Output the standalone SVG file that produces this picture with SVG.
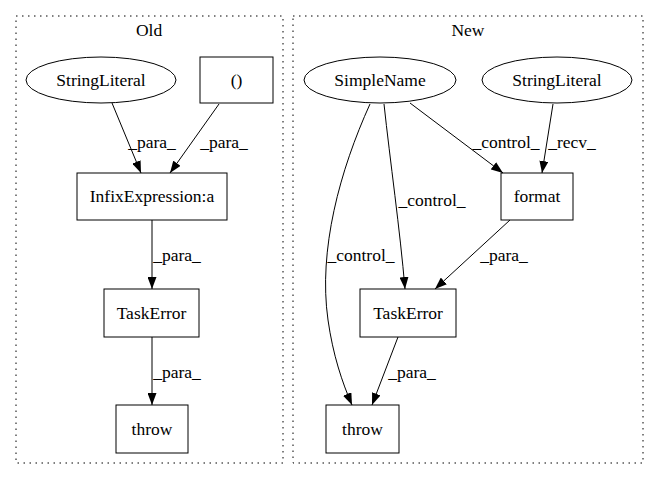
<svg xmlns="http://www.w3.org/2000/svg" width="659" height="480" viewBox="0 0 659 480">
<style>
text{font-family:"Liberation Serif","Times New Roman",serif;font-size:17.5px;fill:#000;text-anchor:middle}
.n{fill:#fff;stroke:#000;stroke-width:1}
.c{fill:none;stroke:#000;stroke-width:1;stroke-dasharray:1.5,4.5}
.e{fill:none;stroke:#000;stroke-width:1;marker-end:url(#a)}
</style>
<defs>
<marker id="a" viewBox="0 0 12 9" refX="12" refY="4.5" markerWidth="12" markerHeight="9" markerUnits="userSpaceOnUse" orient="auto">
<path d="M0,0 L12,4.5 L0,9 z" fill="#000"/>
</marker>
</defs>
<rect width="659" height="480" fill="#fff"/>
<g id="cluster_old">
<rect class="c" x="16" y="16" width="267" height="447"/>
<text x="149" y="36">Old</text>
</g>
<g id="cluster_new">
<rect class="c" x="293" y="16" width="350" height="447"/>
<text x="468" y="36">New</text>
</g>
<g id="old_stringliteral"><ellipse class="n" cx="101" cy="80" rx="75" ry="23"/><text x="101" y="86">StringLiteral</text></g>
<g id="old_paren"><rect class="n" x="200" y="57" width="73" height="46"/><text x="236.5" y="86">()</text></g>
<g id="old_infix"><rect class="n" x="77" y="173" width="150" height="47"/><text x="152" y="202">InfixExpression:a</text></g>
<g id="old_taskerror"><rect class="n" x="104" y="289" width="95" height="48"/><text x="151.5" y="319">TaskError</text></g>
<g id="old_throw"><rect class="n" x="116" y="405" width="72" height="48"/><text x="152" y="435">throw</text></g>
<g id="new_simplename"><ellipse class="n" cx="380" cy="80" rx="76" ry="23"/><text x="380" y="86">SimpleName</text></g>
<g id="new_stringliteral"><ellipse class="n" cx="557" cy="80" rx="75" ry="23"/><text x="557" y="86">StringLiteral</text></g>
<g id="new_format"><rect class="n" x="501" y="173" width="72" height="47"/><text x="537" y="202">format</text></g>
<g id="new_taskerror"><rect class="n" x="360" y="289" width="96" height="48"/><text x="408" y="319">TaskError</text></g>
<g id="new_throw"><rect class="n" x="326" y="405" width="73" height="48"/><text x="362.5" y="435">throw</text></g>
<g id="connectors">
<path class="e" d="M112,103 L141,173"/>
<text x="152" y="148">_para_</text>
<path class="e" d="M219,104 L170,173"/>
<text x="224" y="148">_para_</text>
<path class="e" d="M152,220 L152,289"/>
<text x="177" y="261">_para_</text>
<path class="e" d="M152,337 L152,405"/>
<text x="177" y="378">_para_</text>
<path class="e" d="M410,103 L503,173"/>
<text x="506" y="148">_control_</text>
<path class="e" d="M553,104 L542,173"/>
<text x="572" y="148">_recv_</text>
<path class="e" d="M384,104 C390,160 400,230 405,289"/>
<text x="432" y="206">_control_</text>
<path class="e" d="M370,104 C340,170 318,250 328,320 C333,355 342,382 352,405"/>
<text x="361" y="261">_control_</text>
<path class="e" d="M510,220 L435,289"/>
<text x="504" y="261">_para_</text>
<path class="e" d="M398,337 L372,405"/>
<text x="412" y="378">_para_</text>
</g>
</svg>
